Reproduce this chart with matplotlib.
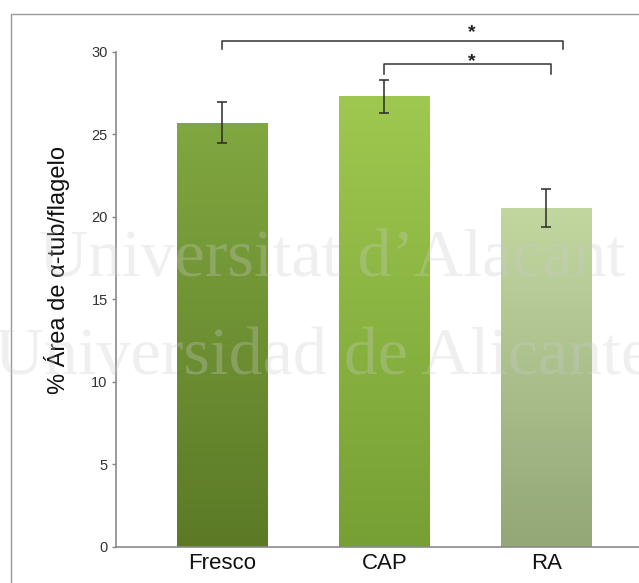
import numpy as np
import matplotlib
matplotlib.use('Agg')
from matplotlib import pyplot as plt
from matplotlib.colors import LinearSegmentedColormap
from matplotlib.patches import Rectangle

categorias = ['Fresco', 'CAP', 'RA']
valores = [25.7, 27.3, 20.5]
errores = [1.25, 1.0, 1.15]
colores_arriba = ['#80a740', '#9ec84f', '#c2d7a0']
colores_abajo = ['#5c7a26', '#76a033', '#93a777']
yticks = [0, 5, 10, 15, 20, 25, 30]

plt.rcParams['font.family'] = ['Liberation Sans', 'DejaVu Sans']

W, H = 639, 583
fig = plt.figure(figsize=(W / 100, H / 100), dpi=100)

# marco gris alrededor de la figura
fig.patches.append(Rectangle((11 / W, -0.1), 1.2, 0.1 + (H - 14) / H,
                             transform=fig.transFigure, fill=False,
                             edgecolor='#999999', lw=1.0, zorder=0))

ax = fig.add_axes([116 / W, (H - 546.7) / H, 1 - 116 / W, (546.7 - 51.7) / H])
ax.patch.set_visible(False)

x = np.arange(len(categorias))
ancho = 0.556
barras = ax.bar(x, valores, width=ancho, color='none', zorder=2)
for b, c1, c2 in zip(barras, colores_arriba, colores_abajo):
    cmap = LinearSegmentedColormap.from_list('g', [c2, c1])
    grad = np.linspace(0, 1, 256).reshape(-1, 1)
    im = ax.imshow(grad, cmap=cmap, aspect='auto', origin='lower',
                   extent=[b.get_x(), b.get_x() + b.get_width(), 0, b.get_height()],
                   zorder=2)
    im.set_clip_path(b)

ax.errorbar(x, valores, yerr=errores, fmt='none', ecolor='#2a2a2a',
            elinewidth=1.1, capsize=3.5, capthick=1.1, zorder=3)

ax.set_xlim(-0.657, 2.571)
ax.set_ylim(0, 30)
ax.set_yticks(yticks)
ax.set_xticks(x)
ax.set_xticklabels(categorias, fontsize=16, color='#111111')
ax.tick_params(axis='x', length=0, pad=4.5)
ax.tick_params(axis='y', length=3, width=1, color='#888888', labelsize=10.5,
               labelcolor='#333333', pad=3)
for s in ['top', 'right']:
    ax.spines[s].set_visible(False)
for s in ['left', 'bottom']:
    ax.spines[s].set_color('#8a8a8a')
    ax.spines[s].set_linewidth(1.2)

ax.set_ylabel('% \u00c1rea de \u03b1-tub/flagelo', fontsize=17, color='#111111')
ax.yaxis.set_label_coords(-0.088, 0.559)

# corchetes de significancia
def corchete(x0, x1, y, h):
    ax.plot([x0, x0, x1, x1], [y - h, y, y, y - h], color='#333333', lw=1.1,
            clip_on=False, zorder=4)

corchete(0, 2.10, 30.65, 0.5)
corchete(1, 2.026, 29.24, 0.6)
ax.text(1.54, 30.87, '*', ha='center', va='baseline', fontsize=14, fontweight='bold',
        color='#222222', clip_on=False)
ax.text(1.54, 29.12, '*', ha='center', va='baseline', fontsize=14, fontweight='bold',
        color='#222222', clip_on=False)

# marca de agua (encima, semitransparente)
fig.text(39 / W, (H - 276) / H, 'Universitat d\u2019Alacant', family='Liberation Serif',
         fontsize=49, color='#cccccc', alpha=0.3, zorder=5)
fig.text(-5 / W, (H - 374) / H, 'Universidad de Alicante', family='Liberation Serif',
         fontsize=49, color='#cccccc', alpha=0.3, zorder=5)

fig.savefig('out.png', dpi=100)
